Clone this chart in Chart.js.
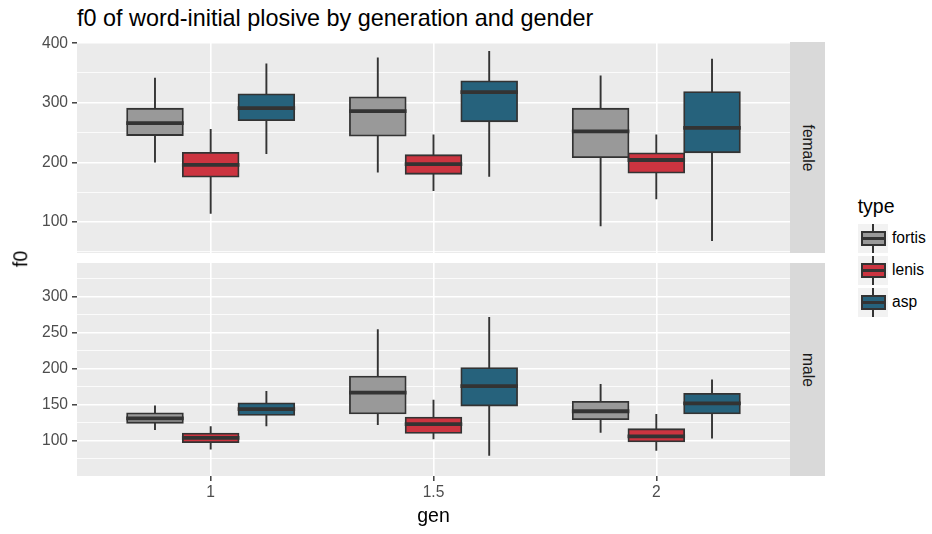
<!DOCTYPE html>
<html><head><meta charset="utf-8">
<script src="https://cdn.jsdelivr.net/npm/chart.js@4"></script>
<style>
body{margin:0;background:#fff;width:932px;height:534px;position:relative;overflow:hidden;font-family:"Liberation Sans",Arial,Helvetica,sans-serif;}
.abs{position:absolute;white-space:nowrap;line-height:1;}
.strip{position:absolute;background:#D9D9D9;}
.strip span{position:absolute;left:50%;top:50%;transform:translate(-50%,-50%) rotate(90deg);font-size:15.6px;color:#1A1A1A;white-space:nowrap;line-height:1;}
.key{position:absolute;left:858px;width:30px;height:29px;background:#F2F2F2;}
.key .wh{position:absolute;left:14px;top:0;width:2px;height:29px;background:#333;}
.key .bx{position:absolute;left:3px;top:7px;width:21px;height:11px;border:2px solid #333;}
.key .md{position:absolute;left:3px;top:13px;width:25px;height:3px;background:#333;}
.klab{position:absolute;left:892px;font-size:15.6px;color:#000;line-height:1;transform:translateY(-50%);}
</style></head><body>
<div class="abs" id="title" style="left:77px;top:7px;font-size:23.4px;color:#000">f0 of word-initial plosive by generation and gender</div>
<div class="abs" style="left:0;top:0;"><canvas id="c1" width="790" height="262"></canvas></div>
<div class="abs" style="left:0;top:256px;"><canvas id="c2" width="790" height="250"></canvas></div>
<div class="strip" style="left:790px;top:42px;width:35px;height:211px"><span>female</span></div>
<div class="strip" style="left:790px;top:263px;width:35px;height:213px"><span>male</span></div>
<div class="abs" style="left:21px;top:259px;font-size:19.5px;color:#000;transform:translate(-50%,-50%) rotate(-90deg)">f0</div>
<div class="abs" style="left:433.5px;top:516px;font-size:19.5px;color:#000;transform:translate(-50%,-50%)">gen</div>
<div class="abs" style="left:857.7px;top:197px;font-size:19.5px;color:#000">type</div>
<div id="legend"></div>
<script>
// ---- data ----
const gens = [1, 1.5, 2];
const genLabels = ['1', '1.5', '2'];
const types = ['fortis', 'lenis', 'asp'];
const typeColors = ['#999999', '#CC3440', '#26627C'];

// female panel
const femaleFortisLo  = [200, 183, 93];
const femaleFortisQ1  = [246, 245, 209];
const femaleFortisMed = [266, 286, 252];
const femaleFortisQ3  = [290, 309, 290];
const femaleFortisHi  = [342, 376, 346];
const femaleLenisLo   = [114, 152, 138];
const femaleLenisQ1   = [176, 181, 183];
const femaleLenisMed  = [196, 197, 204];
const femaleLenisQ3   = [216, 212, 215];
const femaleLenisHi   = [256, 247, 247];
const femaleAspLo     = [214, 176, 68];
const femaleAspQ1     = [271, 269, 217];
const femaleAspMed    = [291, 318, 258];
const femaleAspQ3     = [314, 336, 318];
const femaleAspHi     = [366, 387, 374];

// male panel
const maleFortisLo  = [115, 122, 111];
const maleFortisQ1  = [125, 138, 130];
const maleFortisMed = [131, 167, 141];
const maleFortisQ3  = [138, 189, 154];
const maleFortisHi  = [149, 255, 179];
const maleLenisLo   = [88, 102, 86];
const maleLenisQ1   = [98, 111, 99];
const maleLenisMed  = [104, 123, 106];
const maleLenisQ3   = [110, 132, 116];
const maleLenisHi   = [120, 157, 137];
const maleAspLo     = [120, 79, 103];
const maleAspQ1     = [136, 149, 138];
const maleAspMed    = [144, 176, 152];
const maleAspQ3     = [152, 201, 165];
const maleAspHi     = [169, 272, 185];

// axis ticks / ranges
const femaleMajorTicks = [100, 200, 300, 400];
const femaleMinorTicks = [50, 150, 250, 350];
const femaleRange = [48, 402];
const maleMajorTicks = [100, 150, 200, 250, 300];
const maleMinorTicks = [75, 125, 175, 225, 275, 325];
const maleRange = [51, 347];
const xRange = [0.7, 2.3];

// ---- build ----
const femaleStats = [
  {lo: femaleFortisLo, q1: femaleFortisQ1, med: femaleFortisMed, q3: femaleFortisQ3, hi: femaleFortisHi},
  {lo: femaleLenisLo, q1: femaleLenisQ1, med: femaleLenisMed, q3: femaleLenisQ3, hi: femaleLenisHi},
  {lo: femaleAspLo, q1: femaleAspQ1, med: femaleAspMed, q3: femaleAspQ3, hi: femaleAspHi}
];
const maleStats = [
  {lo: maleFortisLo, q1: maleFortisQ1, med: maleFortisMed, q3: maleFortisQ3, hi: maleFortisHi},
  {lo: maleLenisLo, q1: maleLenisQ1, med: maleLenisMed, q3: maleLenisQ3, hi: maleLenisHi},
  {lo: maleAspLo, q1: maleAspQ1, med: maleAspMed, q3: maleAspQ3, hi: maleAspHi}
];

const FONT = '"Liberation Sans", Arial, sans-serif';

const panelBg = {
  id: 'panelBg',
  beforeDraw(chart) {
    const a = chart.chartArea, ctx = chart.ctx;
    ctx.save(); ctx.fillStyle = '#EBEBEB';
    ctx.fillRect(a.left, a.top, a.right - a.left, a.bottom - a.top);
    ctx.restore();
  }
};

const boxParts = {
  id: 'boxParts',
  beforeDatasetsDraw(chart) {
    const stats = chart.options.plugins.boxParts.stats;
    const ys = chart.scales.y, ctx = chart.ctx;
    ctx.save(); ctx.strokeStyle = '#333333'; ctx.lineWidth = 1.9; ctx.lineCap = 'butt';
    stats.forEach((s, di) => {
      chart.getDatasetMeta(di).data.forEach((bar, i) => {
        const p = bar.getProps(['x'], true);
        ctx.beginPath();
        ctx.moveTo(p.x, ys.getPixelForValue(s.hi[i]));
        ctx.lineTo(p.x, ys.getPixelForValue(s.q3[i]));
        ctx.moveTo(p.x, ys.getPixelForValue(s.q1[i]));
        ctx.lineTo(p.x, ys.getPixelForValue(s.lo[i]));
        ctx.stroke();
      });
    });
    ctx.restore();
  },
  afterDatasetsDraw(chart) {
    const stats = chart.options.plugins.boxParts.stats;
    const ys = chart.scales.y, ctx = chart.ctx;
    ctx.save(); ctx.strokeStyle = '#333333'; ctx.lineWidth = 3.8;
    stats.forEach((s, di) => {
      chart.getDatasetMeta(di).data.forEach((bar, i) => {
        const p = bar.getProps(['x', 'width'], true);
        const yy = ys.getPixelForValue(s.med[i]);
        ctx.beginPath();
        ctx.moveTo(p.x - p.width / 2 - 0.9, yy);
        ctx.lineTo(p.x + p.width / 2 + 0.9, yy);
        ctx.stroke();
      });
    });
    ctx.restore();
  }
};

function makePanel(canvasId, stats, range, majors, minors, showX, padTop, padBottom) {
  const allTicks = majors.concat(minors).sort((a, b) => a - b);
  const isMajor = v => majors.indexOf(v) >= 0;
  const datasets = stats.map((s, di) => ({
    type: 'bar',
    label: types[di],
    data: gens.map((g, i) => ({x: g, y: [s.q1[i], s.q3[i]]})),
    backgroundColor: typeColors[di],
    borderColor: '#333333',
    borderWidth: 1.8,
    borderSkipped: false,
    inflateAmount: 0.9,
    categoryPercentage: 0.75,
    barPercentage: 1.0
  }));
  return new Chart(document.getElementById(canvasId), {
    type: 'bar',
    data: {datasets},
    plugins: [panelBg, boxParts],
    options: {
      responsive: false, animation: false, devicePixelRatio: 1,
      layout: {padding: {top: padTop, bottom: padBottom, left: 0, right: 0}, autoPadding: false},
      plugins: {legend: {display: false}, tooltip: {enabled: false}, boxParts: {stats}},
      scales: {
        x: {
          type: 'linear', min: xRange[0], max: xRange[1], offset: false,
          afterBuildTicks: sc => { sc.ticks = gens.map(v => ({value: v})); },
          afterFit: sc => { sc.height = showX ? 30 : 0; sc.paddingLeft = 0; sc.paddingRight = 0; },
          border: {display: false},
          grid: {offset: false, color: '#FFFFFF', lineWidth: 1.6, drawTicks: showX, tickLength: 5, tickColor: '#333333', tickWidth: 1.4},
          ticks: {display: showX, autoSkip: false, color: '#4D4D4D', font: {size: 15.6, family: FONT}, padding: 2, maxRotation: 0,
                  callback: v => genLabels[gens.indexOf(v)] ?? ''}
        },
        y: {
          type: 'linear', min: range[0], max: range[1],
          afterBuildTicks: sc => { sc.ticks = allTicks.map(v => ({value: v})); },
          afterFit: sc => { sc.width = 77; sc.paddingTop = 0; sc.paddingBottom = 0; },
          border: {display: false},
          grid: {
            color: '#FFFFFF',
            lineWidth: c => isMajor(c.tick.value) ? 1.6 : 0.8,
            drawTicks: true, tickLength: 5,
            tickColor: c => isMajor(c.tick.value) ? '#333333' : 'rgba(0,0,0,0)',
            tickWidth: 1.4
          },
          ticks: {autoSkip: false, color: '#4D4D4D', font: {size: 15.6, family: FONT}, padding: 4,
                  callback: v => isMajor(v) ? String(v) : ''}
        }
      }
    }
  });
}

makePanel('c1', femaleStats, femaleRange, femaleMajorTicks, femaleMinorTicks, false, 42, 9);
makePanel('c2', maleStats, maleRange, maleMajorTicks, maleMinorTicks, true, 7, 0);

// legend
const legendTops = [224, 256, 288];
const lg = document.getElementById('legend');
types.forEach((t, i) => {
  const k = document.createElement('div');
  k.className = 'key'; k.style.top = legendTops[i] + 'px';
  k.innerHTML = '<div class="wh"></div><div class="bx" style="background:' + typeColors[i] + '"></div><div class="md"></div>';
  lg.appendChild(k);
  const l = document.createElement('div');
  l.className = 'klab'; l.style.top = (legendTops[i] + 13.5) + 'px'; l.textContent = t;
  lg.appendChild(l);
});
</script>
</body></html>
